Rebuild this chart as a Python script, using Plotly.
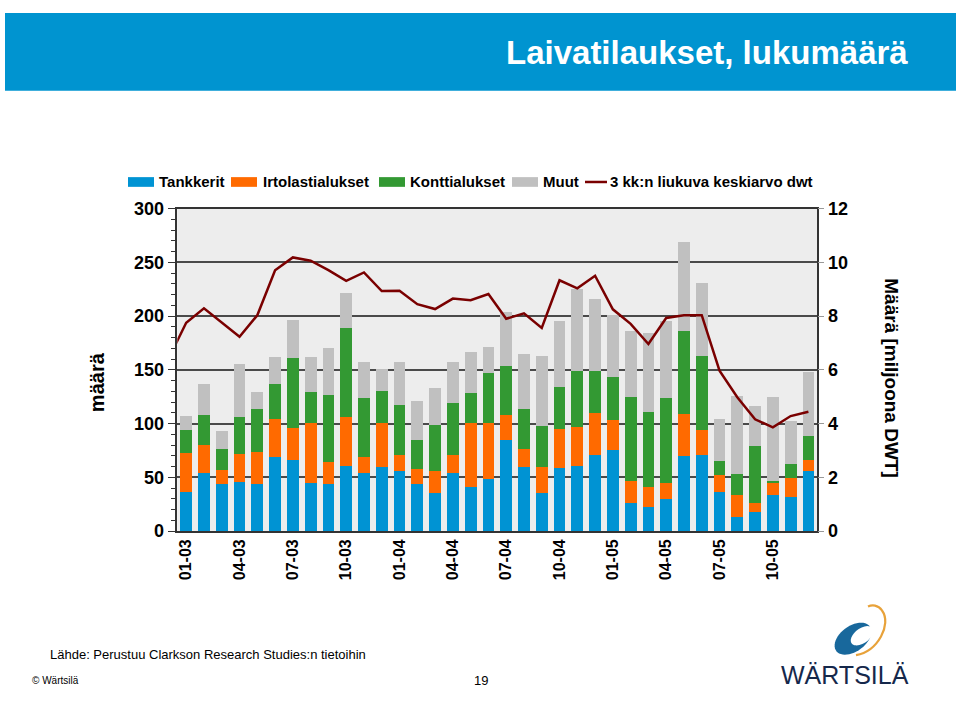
import math
import plotly.graph_objects as go

# ---------------- data ----------------
months = ["01-03", "02-03", "03-03", "04-03", "05-03", "06-03", "07-03", "08-03", "09-03",
          "10-03", "11-03", "12-03", "01-04", "02-04", "03-04", "04-04", "05-04", "06-04",
          "07-04", "08-04", "09-04", "10-04", "11-04", "12-04", "01-05", "02-05", "03-05",
          "04-05", "05-05", "06-05", "07-05", "08-05", "09-05", "10-05", "11-05", "12-05"]
tick_labels = ["01-03", "04-03", "07-03", "10-03", "01-04", "04-04",
               "07-04", "10-04", "01-05", "04-05", "07-05", "10-05"]

tankkerit = [36, 54, 44, 46, 44, 69, 66, 45, 44, 61, 54, 60, 56, 44, 35, 54, 41, 48,
             85, 60, 35, 59, 61, 71, 75, 26, 22, 30, 70, 71, 36, 13, 18, 34, 32, 56]
irtolastialukset = [37, 26, 13, 26, 30, 35, 30, 56, 20, 45, 15, 41, 15, 14, 21, 17, 60, 53,
                    23, 16, 25, 36, 36, 39, 28, 21, 19, 15, 39, 23, 16, 21, 8, 11, 17, 10]
konttialukset = [21, 28, 19, 34, 40, 33, 65, 28, 63, 83, 55, 29, 46, 27, 43, 48, 27, 46,
                 46, 38, 38, 39, 52, 39, 40, 78, 70, 79, 77, 69, 13, 19, 53, 2, 13, 22]
muut = [13, 29, 17, 49, 15, 25, 35, 33, 43, 32, 33, 21, 40, 36, 34, 38, 39, 24,
        50, 51, 65, 61, 76, 67, 58, 61, 73, 71, 83, 68, 39, 73, 37, 78, 40, 60]

# 3-month moving average dwt (millions); the series starts one month before the axis
line_months = ["12-02"] + months
dwt_avg = [6.4, 7.75, 8.29, 7.76, 7.23, 8.03, 9.70, 10.18, 10.06, 9.71, 9.31, 9.62,
           8.93, 8.94, 8.44, 8.26, 8.65, 8.59, 8.82, 7.90, 8.10, 7.56, 9.33, 9.03,
           9.50, 8.25, 7.71, 6.96, 7.93, 8.03, 8.03, 5.97, 4.98, 4.16, 3.86, 4.28, 4.44]

series_names = ["Tankkerit", "Irtolastialukset", "Konttialukset", "Muut"]
line_name = "3 kk:n liukuva keskiarvo dwt"

# ---------------- style ----------------
W, H = 960, 706
C_BLUE = "#0093D3"
C_ORANGE = "#FF6A00"
C_GREEN = "#339933"
C_GREY = "#C0C0C0"
C_LINE = "#7A0000"
FONT = "Liberation Sans, Arial, Helvetica, sans-serif"
colors = [C_BLUE, C_ORANGE, C_GREEN, C_GREY]


def px(x):
    return x / W


def py(y):
    return 1 - y / H


fig = go.Figure()
for name, vals, col in zip(series_names, [tankkerit, irtolastialukset, konttialukset, muut], colors):
    fig.add_trace(go.Bar(x=months, y=vals, name=name, marker=dict(color=col, line=dict(width=0)),
                         showlegend=False))

fig.add_trace(go.Scatter(x=line_months, y=dwt_avg, name=line_name, mode="lines",
                         line=dict(color=C_LINE, width=2.5), yaxis="y2", showlegend=False))

PLOT_L, PLOT_R, PLOT_T, PLOT_B = 177.3, 817.3, 204.3, 536.3

shapes = []
annotations = []

# header band
shapes.append(dict(type="rect", xref="paper", yref="paper", x0=px(5), x1=px(956),
                   y0=py(83), y1=py(3), fillcolor="#0094D0", line=dict(width=0), layer="below"))
annotations.append(dict(text="<b>Laivatilaukset, lukumäärä</b>", x=px(910), y=py(44),
                        xref="paper", yref="paper", xanchor="right", yanchor="middle",
                        showarrow=False, font=dict(family=FONT, size=33, color="white")))

# manual legend
leg_y = 177
leg_boxes = [(128, 154), (231, 257), (379, 405), (512, 538)]
leg_text_x = [157, 261, 408, 541]
for (x0, x1), tx, name, col in zip(leg_boxes, leg_text_x, series_names, colors):
    shapes.append(dict(type="rect", xref="paper", yref="paper", x0=px(x0), x1=px(x1),
                       y0=py(leg_y + 5), y1=py(leg_y - 5), fillcolor=col, line=dict(width=0)))
    annotations.append(dict(text="<b>" + name + "</b>", x=px(tx), y=py(leg_y), xref="paper",
                            yref="paper", xanchor="left", yanchor="middle", showarrow=False,
                            font=dict(family=FONT, size=15, color="black")))
shapes.append(dict(type="line", xref="paper", yref="paper", x0=px(585), x1=px(607),
                   y0=py(leg_y), y1=py(leg_y), line=dict(color=C_LINE, width=2.5)))
annotations.append(dict(text="<b>" + line_name + "</b>", x=px(608), y=py(leg_y), xref="paper",
                        yref="paper", xanchor="left", yanchor="middle", showarrow=False,
                        font=dict(family=FONT, size=15, color="black")))

# axis titles
annotations.append(dict(text="<b>määrä</b>", x=px(97), y=py(383), xref="paper", yref="paper",
                        textangle=-90, showarrow=False, xanchor="center", yanchor="middle",
                        font=dict(family=FONT, size=20, color="black")))
annotations.append(dict(text="<b>Määrä [miljoona DWT]</b>", x=px(892), y=py(379), xref="paper",
                        yref="paper", textangle=90, showarrow=False, xanchor="center",
                        yanchor="middle", font=dict(family=FONT, size=19, color="black")))

# footer texts
annotations.append(dict(text="Lähde: Perustuu Clarkson Research Studies:n tietoihin", x=px(48),
                        y=py(663), xref="paper", yref="paper", xanchor="left", yanchor="middle",
                        showarrow=False, font=dict(family=FONT, size=13, color="black")))
annotations.append(dict(text="© Wärtsilä", x=px(30), y=py(690), xref="paper", yref="paper",
                        xanchor="left", yanchor="middle", showarrow=False,
                        font=dict(family=FONT, size=10, color="black")))
annotations.append(dict(text="19", x=px(481), y=py(690), xref="paper", yref="paper",
                        xanchor="center", yanchor="middle", showarrow=False,
                        font=dict(family=FONT, size=13, color="black")))


# logo (approximation)
def ellipse_path(cx, cy, rx, ry, ang_deg, n=48):
    a = math.radians(ang_deg)
    pts = []
    for i in range(n):
        t = 2 * math.pi * i / n
        ex, ey = rx * math.cos(t), ry * math.sin(t)
        X = cx + ex * math.cos(a) - ey * math.sin(a)
        Y = cy + ex * math.sin(a) + ey * math.cos(a)
        pts.append((px(X), py(Y)))
    return "M " + " L ".join(f"{x:.5f},{y:.5f}" for x, y in pts) + " Z"


shapes.append(dict(type="path", xref="paper", yref="paper",
                   path=ellipse_path(853, 647, 21, 13, -38), fillcolor="#18689C",
                   line=dict(width=0)))
shapes.append(dict(type="path", xref="paper", yref="paper",
                   path=ellipse_path(862, 644, 13, 7.5, -38), fillcolor="white",
                   line=dict(width=0)))


def pp(x, y):
    return f"{px(x):.5f},{py(y):.5f}"


shapes.append(dict(type="path", xref="paper", yref="paper",
                   path=f"M {pp(856, 664)} C {pp(878, 660)} {pp(892, 632)} {pp(882, 618)} "
                        f"C {pp(878, 612)} {pp(872, 612)} {pp(868, 614)}",
                   line=dict(color="#E8A23A", width=2.2)))
annotations.append(dict(text="WÄRTSILÄ", x=px(845), y=py(684), xref="paper", yref="paper",
                        xanchor="center", yanchor="middle", showarrow=False,
                        font=dict(family=FONT, size=25, color="#15284B")))

fig.update_layout(
    width=W, height=H, autosize=False,
    margin=dict(l=0, r=0, t=0, b=0),
    paper_bgcolor="white", plot_bgcolor="#EDEDED",
    barmode="stack", bargap=0.34,
    showlegend=False,
    shapes=shapes, annotations=annotations,
    xaxis=dict(domain=[px(PLOT_L), px(PLOT_R)], type="category",
               categoryorder="array", categoryarray=line_months,
               range=[0.5, 36.5], tickmode="array", tickvals=tick_labels, ticktext=tick_labels,
               tickangle=-90, ticks="", showgrid=False,
               showline=True, linecolor="#333333", linewidth=1.5, mirror=True,
               tickfont=dict(family=FONT, size=16, color="black", weight="bold")),
    yaxis=dict(domain=[py(PLOT_B), py(PLOT_T)], range=[0, 300], dtick=50,
               showgrid=True, gridcolor="#4a4a4a", gridwidth=1.5, zeroline=False,
               showline=True, linecolor="#333333", linewidth=1.5, mirror=True,
               ticks="outside", ticklen=8, tickcolor="#333333", tickwidth=1,
               minor=dict(dtick=10, ticks="outside", ticklen=5, tickcolor="#333333", tickwidth=1),
               tickfont=dict(family=FONT, size=18, color="black", weight="bold")),
    yaxis2=dict(overlaying="y", side="right", range=[0, 12], dtick=2, showgrid=False,
                zeroline=False, showline=False, ticks="outside", ticklen=6,
                tickcolor="#999999",
                tickfont=dict(family=FONT, size=18, color="black", weight="bold")),
)

fig.write_html("out.html", config={"displayModeBar": False},
               post_script="document.body.style.margin='0px';")
